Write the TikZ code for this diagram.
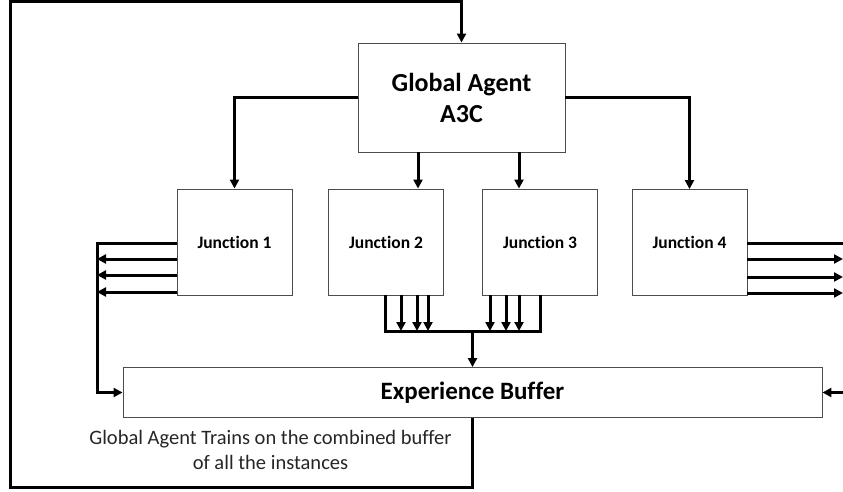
\documentclass[tikz,border=0pt]{standalone}
\usepackage{fontspec}
\setmainfont{Carlito}[Ligatures={NoCommon,NoContextual}]
\usetikzlibrary{arrows.meta}
\tikzset{
  box/.style={draw=black!70, line width=0.9pt, fill=white, inner sep=0pt, align=center},
  flow/.style={line width=3pt},
  >={Triangle[length=9pt,width=9pt]}
}
\begin{document}
\begin{tikzpicture}[x=1pt,y=-1pt]
  \useasboundingbox (0,0) rectangle (843,492);
  \node[box, minimum width=207pt, minimum height=109pt, font=\bfseries\fontsize{26}{31}\selectfont] (ga) at (461.5,97.5) {Global Agent\\A3C};
  \node[box, minimum width=115pt, minimum height=106pt, font=\bfseries\fontsize{17.5}{20}\selectfont] (j1) at (234.5,242) {Junction 1};
  \node[box, minimum width=115pt, minimum height=106pt, font=\bfseries\fontsize{17.5}{20}\selectfont] (j2) at (386,242) {Junction 2};
  \node[box, minimum width=115pt, minimum height=106pt, font=\bfseries\fontsize{17.5}{20}\selectfont] (j3) at (540,242) {Junction 3};
  \node[box, minimum width=115pt, minimum height=106pt, font=\bfseries\fontsize{17.5}{20}\selectfont] (j4) at (689.5,242.5) {Junction 4};
  \node[box, minimum width=699pt, minimum height=50pt, font=\bfseries\fontsize{25}{30}\selectfont] (buf) at (472.5,392.5) {Experience Buffer};
  \node[align=center, inner sep=0pt, text=black!85, font=\fontsize{20.5}{25}\selectfont] (note) at (270.5,449.5) {Global Agent Trains on the combined buffer\\of all the instances};

  \coordinate (a2) at (418,0);
  \coordinate (a3) at (519,0);
  \coordinate (bus) at (0,331);
  \coordinate (lbus) at (97,0);
  \coordinate (redge) at (843,0);

  % global agent to the junctions
  \draw[flow,->] (ga.west) -| (j1.north);
  \draw[flow,->] (ga.east) -| (j4.north);
  \draw[flow,->] (ga.south -| a2) -- (j2.north -| a2);
  \draw[flow,->] (ga.south -| a3) -- (j3.north -| a3);

  % junctions 2 and 3 to the buffer
  \draw[flow] (j2.south -| 385,0) |- (bus -| 540,0) -- (j3.south -| 540,0);
  \foreach \x in {401,417,428,490,506,519}
    \draw[flow,->] (j2.south -| \x,0) -- (bus -| \x,0);
  \draw[flow,->] (bus -| buf.north) -- (buf.north);

  % junction 1
  \draw[flow,->] (j1.west |- 0,243) -| (lbus |- buf.west) -- (buf.west);
  \foreach \y in {259,275,292}
    \draw[flow,->] (j1.west |- 0,\y) -- (lbus |- 0,\y);

  % junction 4
  \draw[flow] (j4.east |- 0,243) -- (redge |- 0,243);
  \foreach \y in {259,277,293}
    \draw[flow,->] (j4.east |- 0,\y) -- (redge |- 0,\y);
  \draw[flow,->] (redge |- buf.east) -- (buf.east);

  % training loop back to the global agent
  \draw[flow,->] (buf.south) -- ++(0,70) -| (10,2) -| (ga.north);
\end{tikzpicture}
\end{document}
